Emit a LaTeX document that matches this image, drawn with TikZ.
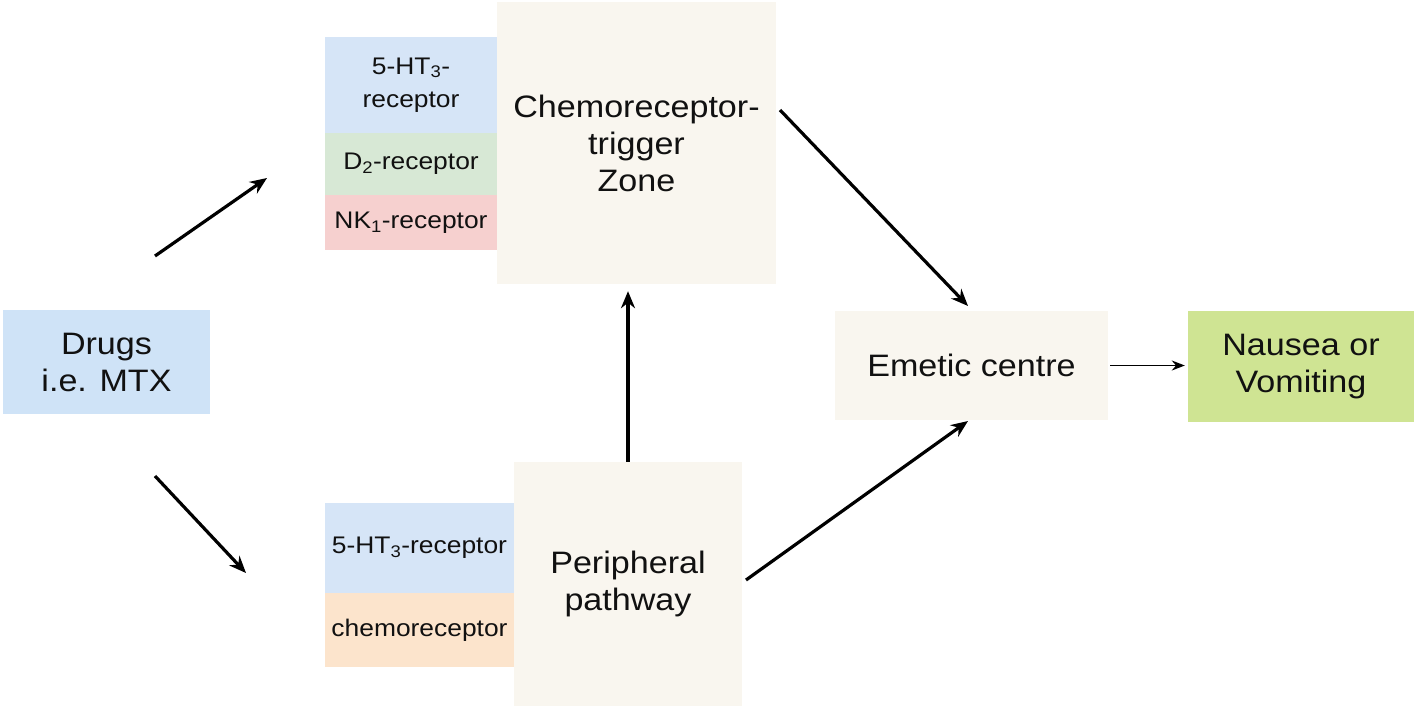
\documentclass[tikz,border=0pt]{standalone}
\usepackage{fontspec}
\setmainfont[FakeStretch=1.1]{Liberation Sans}
\usetikzlibrary{arrows.meta}
\definecolor{drugblue}{HTML}{CFE3F7}
\definecolor{recblue}{HTML}{D6E5F7}
\definecolor{recgreen}{HTML}{D7E8D5}
\definecolor{recpink}{HTML}{F6D0CF}
\definecolor{recpeach}{HTML}{FCE4CC}
\definecolor{cream}{HTML}{F9F6EF}
\definecolor{nvgreen}{HTML}{CFE493}
\definecolor{txt}{HTML}{111111}
\tikzset{
  bigbox/.style={inner sep=0pt, align=center, text=txt, font=\fontsize{31}{37}\selectfont},
  recbox/.style={inner sep=0pt, align=center, text=txt, font=\fontsize{24}{33}\selectfont},
  arr/.style={line width=3.2pt, -{Stealth[length=17pt,width=14pt]}},
  thinarr/.style={line width=1.7pt, -{Stealth[length=13pt,width=10pt]}}
}
\begin{document}
\begin{tikzpicture}[x=1pt,y=-1pt]
\useasboundingbox (0,0) rectangle (1418,709);
% main boxes
\node[bigbox, fill=drugblue, minimum width=207pt, minimum height=104pt] (drugs) at (106.5,362) {Drugs\\i.e. MTX};
\node[bigbox, fill=cream, minimum width=279pt, minimum height=282pt] (ctz) at (636.5,143) {Chemoreceptor-\\trigger\\Zone};
\node[bigbox, fill=cream, minimum width=228pt, minimum height=244pt] (pp) at (628,584) {Peripheral\\pathway};
\node[bigbox, fill=cream, minimum width=273pt, minimum height=109pt] (ec) at (971.5,365.5) {Emetic centre};
\node[bigbox, fill=nvgreen, minimum width=226pt, minimum height=111pt] (nv) at (1301,366.5) {Nausea or\\Vomiting};
% receptor stacks
\node[recbox, fill=recblue, minimum width=172pt, minimum height=96pt] (r1) at (411,85) {5-HT\textsubscript{3}-\\receptor};
\node[recbox, fill=recgreen, minimum width=172pt, minimum height=62pt] (r2) at (411,164) {D\textsubscript{2}-receptor};
\node[recbox, fill=recpink, minimum width=172pt, minimum height=55pt] (r3) at (411,222.5) {NK\textsubscript{1}-receptor};
\node[recbox, fill=recblue, minimum width=189pt, minimum height=90pt] (r4) at (419.5,548) {5-HT\textsubscript{3}-receptor};
\node[recbox, fill=recpeach, minimum width=189pt, minimum height=74pt] (r5) at (419.5,630) {chemoreceptor};
% free arrow ends
\coordinate (upS) at (155,256);
\coordinate (upE) at (267,178);
\coordinate (dnS) at (155,476);
\coordinate (dnE) at (246,573);
\coordinate (ctzS) at (780,110);
\coordinate (ecTop) at (968,306);
\coordinate (ppS) at (746,580);
\coordinate (ecBot) at (968,421);
% connectors
\draw[arr] (upS) -- (upE);
\draw[arr] (dnS) -- (dnE);
\draw[arr] (ctzS) -- (ecTop);
\draw[arr] (ppS) -- (ecBot);
\draw[arr, shorten >=7pt] (pp.north) -- (pp.north |- ctz.south);
\draw[thinarr, shorten <=2pt, shorten >=3pt] (ec.east) -- (nv.west |- ec.east);
\end{tikzpicture}
\end{document}
